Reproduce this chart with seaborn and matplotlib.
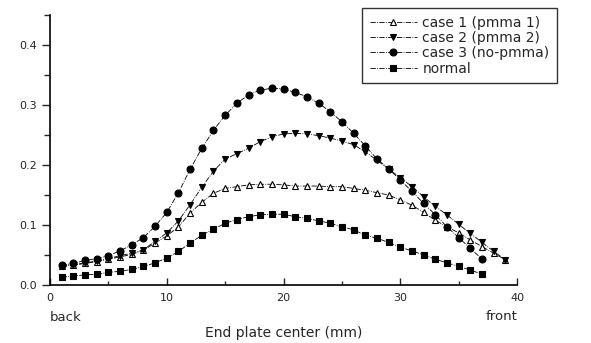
import numpy as np
import pandas as pd
import matplotlib
matplotlib.use("Agg")
import matplotlib.pyplot as plt
from matplotlib.ticker import MultipleLocator
import seaborn as sns

# --- data ---
pos_long = list(range(1, 40))   # case 1 / case 2 go to 39 mm
pos_short = list(range(1, 38))  # case 3 / normal stop at 37 mm

case1 = [0.031, 0.033, 0.036, 0.039, 0.043, 0.047, 0.051, 0.058, 0.070, 0.082,
         0.097, 0.120, 0.138, 0.153, 0.161, 0.164, 0.167, 0.168, 0.168, 0.167,
         0.165, 0.165, 0.165, 0.164, 0.164, 0.161, 0.158, 0.154, 0.150, 0.142,
         0.133, 0.121, 0.108, 0.097, 0.087, 0.075, 0.064, 0.053, 0.042]
case2 = [0.032, 0.034, 0.037, 0.040, 0.044, 0.049, 0.053, 0.059, 0.073, 0.087,
         0.107, 0.134, 0.163, 0.190, 0.210, 0.219, 0.228, 0.239, 0.247, 0.252,
         0.253, 0.252, 0.249, 0.245, 0.240, 0.234, 0.222, 0.208, 0.193, 0.179,
         0.164, 0.147, 0.131, 0.117, 0.101, 0.086, 0.071, 0.056, 0.042]
case3 = [0.033, 0.036, 0.041, 0.044, 0.049, 0.057, 0.067, 0.079, 0.098, 0.121,
         0.154, 0.193, 0.228, 0.258, 0.283, 0.303, 0.317, 0.325, 0.328, 0.327,
         0.321, 0.314, 0.303, 0.289, 0.272, 0.253, 0.232, 0.210, 0.194, 0.175,
         0.156, 0.136, 0.117, 0.097, 0.079, 0.061, 0.043]
normal = [0.013, 0.015, 0.017, 0.018, 0.021, 0.023, 0.026, 0.031, 0.037, 0.045,
          0.056, 0.070, 0.083, 0.093, 0.103, 0.109, 0.114, 0.117, 0.118, 0.118,
          0.114, 0.111, 0.107, 0.103, 0.097, 0.092, 0.083, 0.078, 0.071, 0.063,
          0.057, 0.050, 0.043, 0.037, 0.031, 0.025, 0.018]

labels = ["case 1 (pmma 1)", "case 2 (pmma 2)", "case 3 (no-pmma)", "normal"]

sns.set_style("ticks")
plt.rcParams['font.family'] = ['DejaVu Sans']

fig = plt.figure(figsize=(5.91, 3.43), dpi=100)
ax = fig.add_axes([0.0846, 0.169, 0.7904, 0.787])

series = [
    (pos_long, case1, labels[0], "^", "white"),
    (pos_long, case2, labels[1], "v", "black"),
    (pos_short, case3, labels[2], "o", "black"),
    (pos_short, normal, labels[3], "s", "black"),
]
for xs, ys, lab, mk, fc in series:
    sns.lineplot(x=xs, y=ys, ax=ax, label=lab, color="black", marker=mk,
                 markerfacecolor=fc, markeredgecolor="black", markersize=5,
                 markeredgewidth=0.8, linewidth=0.6, linestyle="-.")

ax.set_xlim(0, 40)
ax.set_ylim(0, 0.45)
ax.xaxis.set_major_locator(MultipleLocator(10))
ax.xaxis.set_minor_locator(MultipleLocator(5))
ax.yaxis.set_major_locator(MultipleLocator(0.1))
ax.yaxis.set_minor_locator(MultipleLocator(0.05))
ax.set_yticks([0.0, 0.1, 0.2, 0.3, 0.4])
ax.set_yticklabels(["0.0", "0.1", "0.2", "0.3", "0.4"])
ax.tick_params(axis="x", which="major", direction="in", length=5, width=1,
               labelsize=8, pad=6)
ax.tick_params(axis="x", which="minor", direction="in", length=3, width=1)
ax.tick_params(axis="y", which="major", direction="out", length=6, width=1,
               labelsize=8)
ax.tick_params(axis="y", which="minor", direction="out", length=4, width=1)
for side in ["top", "right"]:
    ax.spines[side].set_visible(False)
for side in ["left", "bottom"]:
    ax.spines[side].set_linewidth(1.2)
    ax.spines[side].set_color("black")

ax.set_xlabel("End plate center (mm)", fontsize=10)
ax.xaxis.set_label_coords(0.5, -0.15)
ax.set_ylabel("")
ax.text(0.0, -0.12, "back", transform=ax.transAxes, ha="left", va="center",
        fontsize=9.5)
ax.text(1.0, -0.115, "front", transform=ax.transAxes, ha="right", va="center",
        fontsize=9.5)

ax.get_legend().remove()
handles, labs = ax.get_legend_handles_labels()
leg = fig.legend(handles, labs, loc="upper left", bbox_to_anchor=(0.6125, 0.977),
                 fontsize=10, frameon=True, fancybox=False, handlelength=3.4,
                 handletextpad=0.4, labelspacing=0.1, borderpad=0.55,
                 borderaxespad=0)
leg.get_frame().set_edgecolor("black")
leg.get_frame().set_linewidth(1.0)

fig.savefig("out.png", dpi=100)
